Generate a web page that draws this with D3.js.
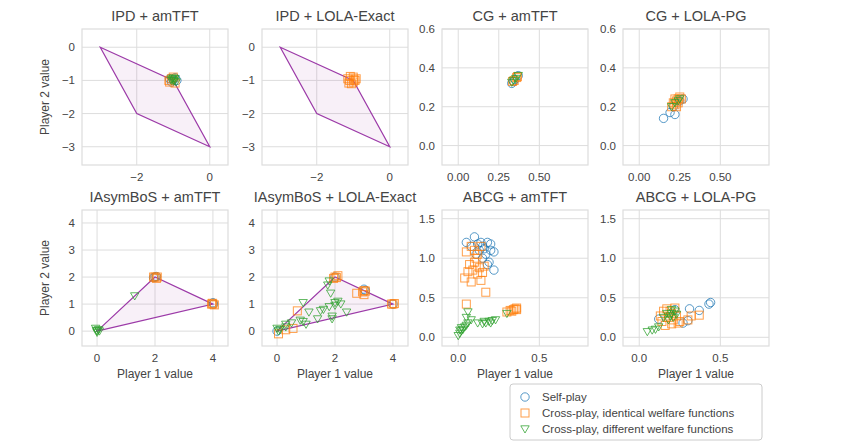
<!DOCTYPE html>
<html><head><meta charset="utf-8">
<script src="https://cdn.jsdelivr.net/npm/d3@7"></script>
<style>body{margin:0;background:#fff}text{font-family:"Liberation Sans",Arial,sans-serif;fill:#444}</style>
</head><body><svg id="c" width="850" height="442"></svg>
<script>
const titles=["IPD + amTFT","IPD + LOLA-Exact","CG + amTFT","CG + LOLA-PG","IAsymBoS + amTFT","IAsymBoS + LOLA-Exact","ABCG + amTFT","ABCG + LOLA-PG"];
const seriesNames=["Self-play","Cross-play, identical welfare functions","Cross-play, different welfare functions"];
const colors=["#1f77b4","#ff7f0e","#2ca02c"];
const ipdPoly=[[-3,0],[-1,-1],[0,-3],[-2,-2]];
const bosPoly=[[0,0],[2,2],[4,1]];
const ipdX=[-2,0], ipdY=[0,-1,-2,-3];
const cgX=[0,0.25,0.5], cgY=[0,0.2,0.4,0.6];
const bosX=[0,2,4], bosY=[0,1,2,3,4];
const abX=[0,0.5], abY=[0,0.5,1,1.5];
// data per panel: [self, crossSame, crossDiff]
const p0=[[[-1,-1],[-0.95,-0.92],[-1.05,-1.05],[-0.9,-1],[-1.1,-0.95]],
 [[-1.1,-1.05],[-1.05,-0.95],[-0.95,-1.08],[-1,-0.9],[-1.12,-1]],
 [[-1,-1],[-0.95,-0.95],[-1.05,-1],[-0.92,-1.05],[-1,-0.93],[-0.97,-1.02],[-1.04,-0.96]]];
const p1=[[],[[-1.1,-1],[-1,-0.9],[-0.95,-1],[-1.05,-1.1],[-1.15,-0.95],[-1,-1.05],[-0.92,-0.95],[-1.08,-0.88],[-1.12,-1.08],[-0.98,-0.98]],[]];
const p2=[[[0.33,0.32],[0.35,0.34],[0.37,0.36],[0.34,0.33]],
 [[0.335,0.33],[0.36,0.35],[0.345,0.335],[0.365,0.355]],
 [[0.34,0.335],[0.355,0.345],[0.33,0.325],[0.37,0.36]]];
const p3=[[[0.15,0.14],[0.19,0.17],[0.21,0.2],[0.22,0.16],[0.27,0.24],[0.25,0.23]],
 [[0.2,0.2],[0.22,0.21],[0.23,0.23],[0.24,0.24],[0.25,0.25],[0.21,0.22],[0.23,0.2],[0.26,0.24],[0.22,0.24],[0.24,0.22]],
 [[0.22,0.22],[0.24,0.23],[0.2,0.2],[0.25,0.24]]];
const p4=[[[2,2],[1.95,1.98],[4,1.05],[4.02,1],[2.05,2.02]],
 [[2,2],[2.05,1.95],[1.95,2],[2.08,2],[4,1],[3.95,1],[4.05,0.97],[3.98,1.03]],
 [[0,0],[0.05,0.05],[-0.05,0.1],[0,-0.05],[0.08,0],[-0.02,0.02],[1.3,1.3]]];
const p5=[[[2,2],[3,1.55],[4,1],[0,0],[3.05,1.5]],
 [[2,2],[2.1,2.05],[1.95,1.95],[3,1.5],[2.95,1.45],[3.05,1.48],[4,1],[3.95,1],[4.05,1.02],[2.75,1.4],[3,1.35],[0.7,0.75],[0.3,0.05],[0.55,0.1],[0.05,-0.1],[2.05,1.98]],
 [[0,0.1],[0.1,0.05],[0.3,0.25],[0.5,0.3],[0.8,0.4],[0.9,0.35],[1,0.25],[1.1,0.7],[1.4,0.45],[1.5,0.75],[1.6,0.8],[1.9,0.55],[1.8,0.9],[2,1.05],[2.1,1.1],[1.75,1.7],[1.85,1.4],[2,0.95],[1.9,0.45],[2.4,0.7],[1.8,1.85],[0.9,1.05],[2.2,1.0],[0.05,0.0],[0.3,0.15]]];
const p6=[[[0.05,1.2],[0.1,1.27],[0.12,1.18],[0.15,1.15],[0.18,1.2],[0.2,1.1],[0.22,1.08],[0.17,1.05],[0.19,0.95],[0.15,1.0],[0.18,0.92],[0.22,0.85],[0.08,1.15],[0.13,1.1],[0.2,1.18],[0.16,1.12],[0.11,1.05],[0.14,1.2]],
 [[0.05,1.08],[0.08,1.15],[0.1,1.1],[0.12,1.05],[0.14,1.15],[0.07,0.92],[0.1,0.95],[0.13,0.88],[0.16,0.9],[0.06,0.83],[0.09,0.85],[0.12,0.8],[0.15,0.82],[0.04,0.75],[0.08,0.7],[0.14,0.72],[0.11,1.0],[0.17,0.57],[0.05,0.42],[0.3,0.32],[0.32,0.34],[0.34,0.35],[0.35,0.36],[0.36,0.37],[0.33,0.33],[0.36,0.35]],
 [[0,0.02],[0.01,0.05],[0.02,0.08],[0.03,0.1],[0.04,0.13],[0.05,0.15],[0.02,0.12],[0.01,0.09],[0.06,0.18],[0.06,0.32],[0.05,0.25],[0.08,0.22],[0.12,0.18],[0.15,0.17],[0.17,0.18],[0.19,0.2],[0.21,0.21],[0.23,0.22],[0.16,0.2],[0.2,0.18],[0.3,0.3]]];
const p7=[[[0.12,0.23],[0.31,0.36],[0.37,0.34],[0.43,0.42],[0.44,0.44],[0.27,0.18],[0.22,0.35],[0.3,0.21]],
 [[0.13,0.27],[0.15,0.33],[0.17,0.36],[0.2,0.3],[0.22,0.37],[0.18,0.25],[0.14,0.2],[0.16,0.15],[0.2,0.17],[0.24,0.18],[0.25,0.2],[0.3,0.22],[0.32,0.27],[0.37,0.28],[0.21,0.22],[0.19,0.33],[0.23,0.27]],
 [[0.05,0.07],[0.08,0.09],[0.1,0.1],[0.12,0.13],[0.15,0.25],[0.18,0.22],[0.2,0.3],[0.22,0.33],[0.19,0.27],[0.21,0.25],[0.23,0.29],[0.17,0.3],[0.2,0.35]]];
const data=[p0,p1,p2,p3,p4,p5,p6,p7];
const cfg=[
 {xd:[-3.5,0.5],yd:[-3.55,0.55],xt:ipdX,yt:ipdY,poly:ipdPoly,xf:d3.format("d"),yf:d3.format("d")},
 {xd:[-3.5,0.5],yd:[-3.55,0.55],xt:ipdX,yt:ipdY,poly:ipdPoly,xf:d3.format("d"),yf:d3.format("d")},
 {xd:[-0.1,0.8],yd:[-0.1,0.6],xt:cgX,yt:cgY,xf:d3.format(".2f"),yf:d3.format(".1f")},
 {xd:[-0.1,0.8],yd:[-0.1,0.6],xt:cgX,yt:cgY,xf:d3.format(".2f"),yf:d3.format(".1f")},
 {xd:[-0.52,4.52],yd:[-0.55,4.48],xt:bosX,yt:bosY,poly:bosPoly,xf:d3.format("d"),yf:d3.format("d")},
 {xd:[-0.52,4.52],yd:[-0.55,4.48],xt:bosX,yt:bosY,poly:bosPoly,xf:d3.format("d"),yf:d3.format("d")},
 {xd:[-0.1,0.8],yd:[-0.11,1.61],xt:abX,yt:abY,xf:d3.format(".1f"),yf:d3.format(".1f")},
 {xd:[-0.1,0.8],yd:[-0.11,1.61],xt:abX,yt:abY,xf:d3.format(".1f"),yf:d3.format(".1f")}];
const svg=d3.select("#c");
const lefts=[82,262,442,623], tops=[29,210], W=146, H=136;
function marker(g,k,x,y){
  const c=colors[k];
  if(k===0) g.append("circle").attr("cx",x).attr("cy",y).attr("r",4.2).attr("fill","none").attr("stroke",c).attr("stroke-width",1).attr("opacity",0.75);
  else if(k===1) g.append("rect").attr("x",x-4).attr("y",y-4).attr("width",8).attr("height",8).attr("fill","none").attr("stroke",c).attr("stroke-width",1).attr("opacity",0.75);
  else g.append("path").attr("d",`M${x-4.2},${y-3.2}L${x+4.2},${y-3.2}L${x},${y+4}Z`).attr("fill","none").attr("stroke",c).attr("stroke-width",1).attr("opacity",0.75);
}
cfg.forEach((c,i)=>{
  const L=lefts[i%4],T=tops[Math.floor(i/4)];
  const x=d3.scaleLinear().domain(c.xd).range([L,L+W]);
  const y=d3.scaleLinear().domain(c.yd).range([T+H,T]);
  const g=svg.append("g");
  c.xt.forEach(t=>g.append("line").attr("x1",x(t)).attr("x2",x(t)).attr("y1",T).attr("y2",T+H).attr("stroke","#ddd"));
  c.yt.forEach(t=>g.append("line").attr("y1",y(t)).attr("y2",y(t)).attr("x1",L).attr("x2",L+W).attr("stroke","#ddd"));
  g.append("rect").attr("x",L).attr("y",T).attr("width",W).attr("height",H).attr("fill","none").attr("stroke","#ddd").attr("stroke-width",1.2);
  c.xt.forEach(t=>g.append("text").attr("x",x(t)).attr("y",T+H+16).attr("text-anchor","middle").attr("font-size",11.5).text(c.xf(t).replace("-","\u2212")));
  c.yt.forEach(t=>g.append("text").attr("x",L-7).attr("y",y(t)+4).attr("text-anchor","end").attr("font-size",11.5).text(c.yf(t).replace("-","\u2212")));
  g.append("text").attr("x",L+W/2).attr("y",T-8).attr("text-anchor","middle").attr("font-size",14.5).attr("fill","#333").text(titles[i]);
  if(c.poly){
    g.append("path").attr("d",d3.line().x(d=>x(d[0])).y(d=>y(d[1]))(c.poly)+"Z").attr("fill","rgba(160,40,160,0.07)").attr("stroke","#9c3aa8").attr("stroke-width",1.2);
  }
  data[i].forEach((s,k)=>s.forEach(d=>marker(g,k,x(d[0]),y(d[1]))));
  if(i%4===0) g.append("text").attr("transform",`translate(${L-33},${T+H/2}) rotate(-90)`).attr("text-anchor","middle").attr("font-size",12).text("Player 2 value");
  if(i>=4) g.append("text").attr("x",L+W/2).attr("y",T+H+32).attr("text-anchor","middle").attr("font-size",12).text("Player 1 value");
});
const lg=svg.append("g");
lg.append("rect").attr("x",510).attr("y",384).attr("width",252).attr("height",56).attr("rx",3).attr("fill","#fff").attr("stroke","#ccc");
seriesNames.forEach((n,k)=>{
  marker(lg,k,525,397+k*16);
  lg.append("text").attr("x",542).attr("y",401+k*16).attr("font-size",11.5).text(n);
});
</script></body></html>
